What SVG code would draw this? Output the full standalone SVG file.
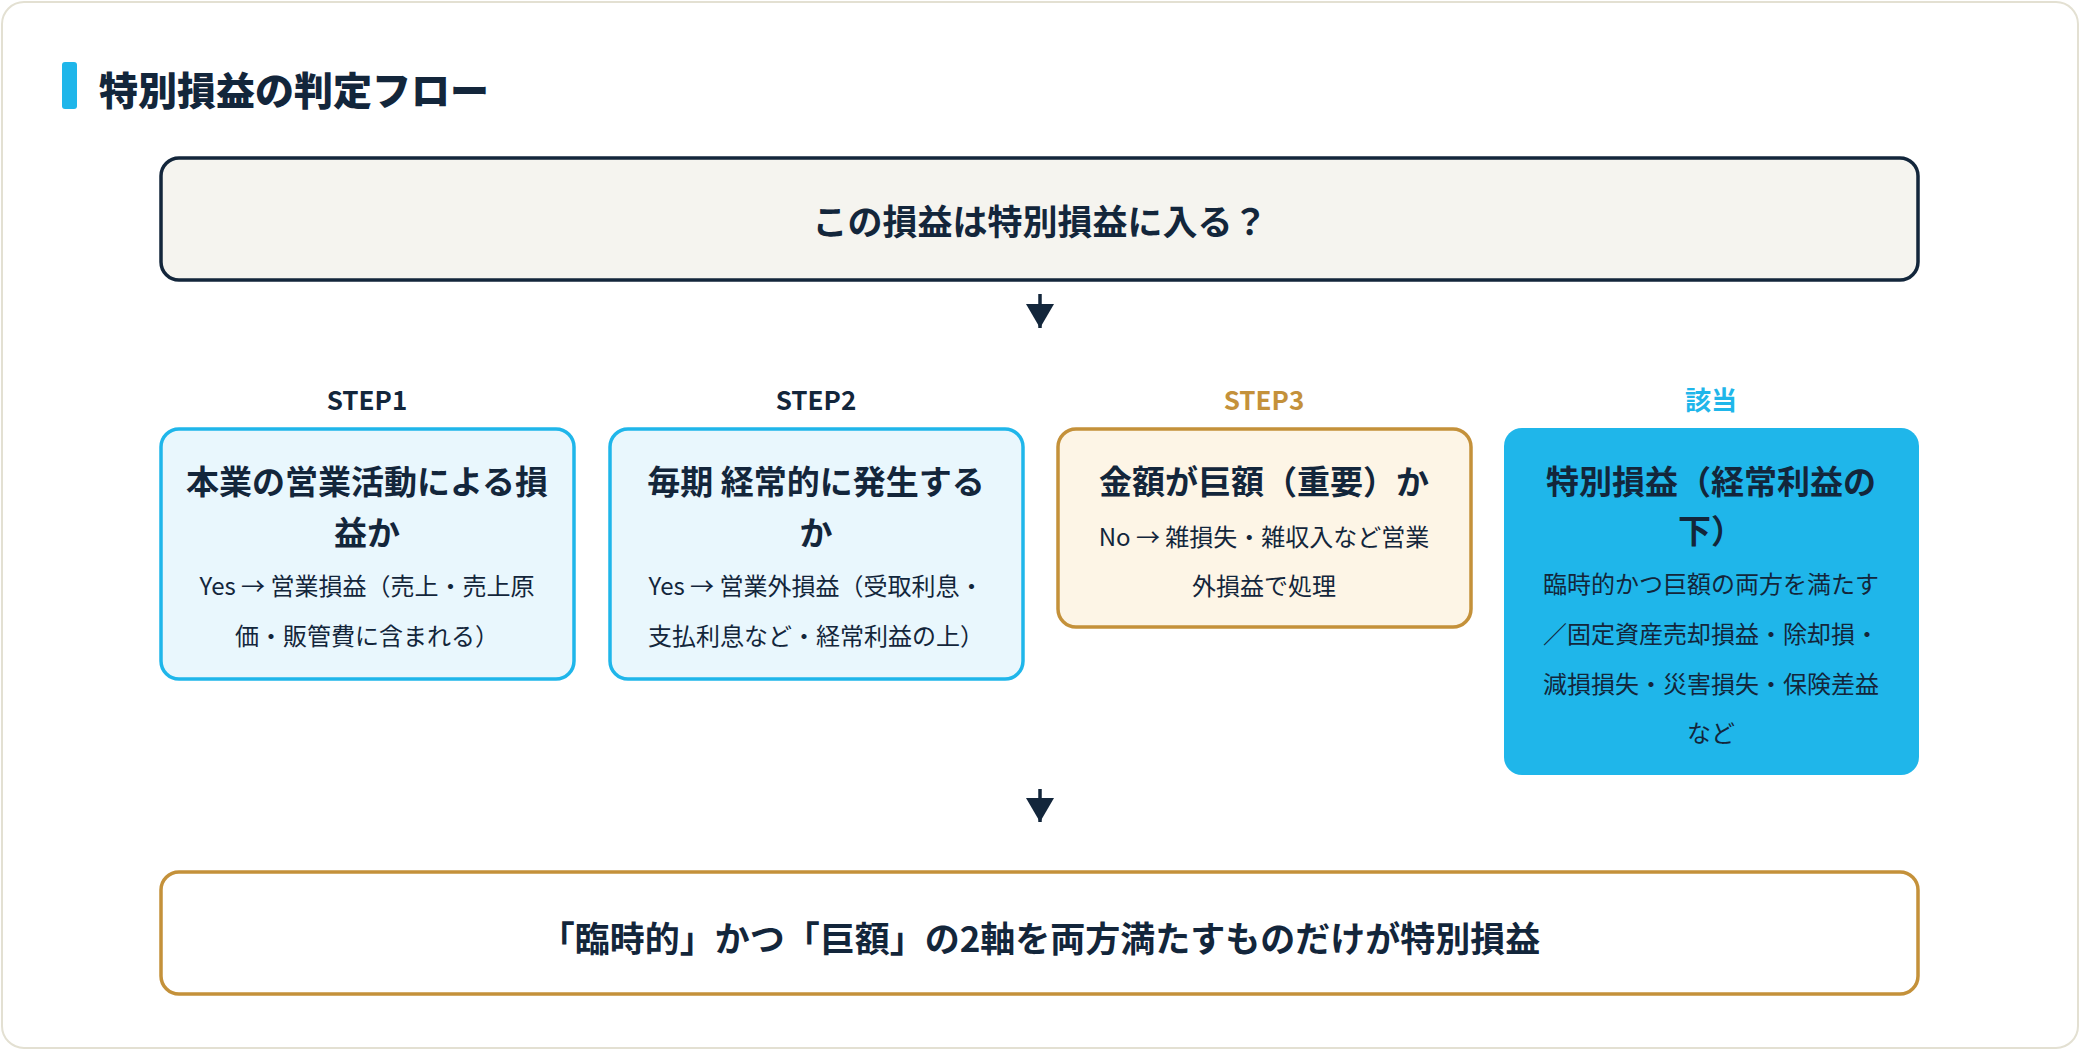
<svg xmlns="http://www.w3.org/2000/svg" width="2080" height="1050" viewBox="0 0 2080 1050">
<style>
text{font-family:"Noto Sans CJK JP","Noto Sans",sans-serif;fill:#13263b;text-anchor:middle;dominant-baseline:central}
.b{font-weight:700}
.t{font-size:33px;font-weight:700}
.s{font-size:24px}
.lbl{font-size:26px;font-weight:700}
.c{fill:#e9f7fd;stroke:#1fb6ea;stroke-width:3.5}
</style>
<defs>
<marker id="ah" viewBox="0 0 10 10" refX="5" refY="9" markerWidth="10" markerHeight="10" markerUnits="userSpaceOnUse" orient="auto"><path d="M0,0 L10,0 L5,10 z" fill="#13263b"/></marker>
<marker id="a2" viewBox="0 0 28 24" refX="14" refY="24" markerWidth="28" markerHeight="24" markerUnits="userSpaceOnUse" orient="0"><path d="M0,0 L28,0 L14,24 z" fill="#13263b"/></marker>
</defs>
<rect x="2" y="2" width="2076" height="1046" rx="22" fill="#fff" stroke="#e3e0d2" stroke-width="2"/>
<g id="title">
<rect x="62" y="62" width="15" height="47" rx="3" fill="#1fb6ea"/>
<text x="99" y="88" style="font-size:39px;font-weight:900;text-anchor:start">特別損益の判定フロー</text>
</g>
<g id="q">
<rect x="161" y="158" width="1757" height="122" rx="18" fill="#f5f4ef" stroke="#13263b" stroke-width="3.5"/>
<text x="1040" y="219" class="b" style="font-size:35px">この損益は特別損益に入る？</text>
</g>
<g id="connectors" stroke="#13263b" stroke-width="3.5">
<line x1="1040" y1="294" x2="1040" y2="328" marker-end="url(#a2)"/>
<line x1="1040" y1="789" x2="1040" y2="822" marker-end="url(#a2)"/>
</g>
<g id="step1">
<text x="367" y="398" class="lbl">STEP1</text>
<rect x="161" y="429" width="413" height="250" rx="18" class="c"/>
<text x="367" y="480" class="t">本業の営業活動による損</text>
<text x="367" y="531" class="t">益か</text>
<text x="367" y="584" class="s">Yes → 営業損益（売上・売上原</text>
<text x="367" y="634" class="s">価・販管費に含まれる）</text>
</g>
<g id="step2">
<text x="816" y="398" class="lbl">STEP2</text>
<rect x="610" y="429" width="413" height="250" rx="18" class="c"/>
<text x="816" y="480" class="t">毎期 経常的に発生する</text>
<text x="816" y="531" class="t">か</text>
<text x="816" y="584" class="s">Yes → 営業外損益（受取利息・</text>
<text x="816" y="634" class="s">支払利息など・経常利益の上）</text>
</g>
<g id="step3">
<text x="1264" y="398" class="lbl" style="fill:#c4913a">STEP3</text>
<rect x="1058" y="429" width="413" height="198" rx="18" fill="#fdf5e6" stroke="#c4913a" stroke-width="3.5"/>
<text x="1264" y="480" class="t">金額が巨額（重要）か</text>
<text x="1264" y="535" class="s">No → 雑損失・雑収入など営業</text>
<text x="1264" y="584" class="s">外損益で処理</text>
</g>
<g id="result">
<text x="1711" y="398" class="lbl" style="fill:#1fb6ea">該当</text>
<rect x="1504" y="428" width="415" height="347" rx="18" fill="#1fb6ea"/>
<text x="1711" y="480" class="t">特別損益（経常利益の</text>
<text x="1711" y="529" class="t">下）</text>
<text x="1711" y="582" class="s">臨時的かつ巨額の両方を満たす</text>
<text x="1711" y="632" class="s">／固定資産売却損益・除却損・</text>
<text x="1711" y="682" class="s">減損損失・災害損失・保険差益</text>
<text x="1711" y="731" class="s">など</text>
</g>
<g id="conclusion">
<rect x="161" y="872" width="1757" height="122" rx="18" fill="#fff" stroke="#c4913a" stroke-width="3.5"/>
<text x="1040" y="936" class="b" style="font-size:35px">「臨時的」かつ「巨額」の2軸を両方満たすものだけが特別損益</text>
</g>
</svg>
